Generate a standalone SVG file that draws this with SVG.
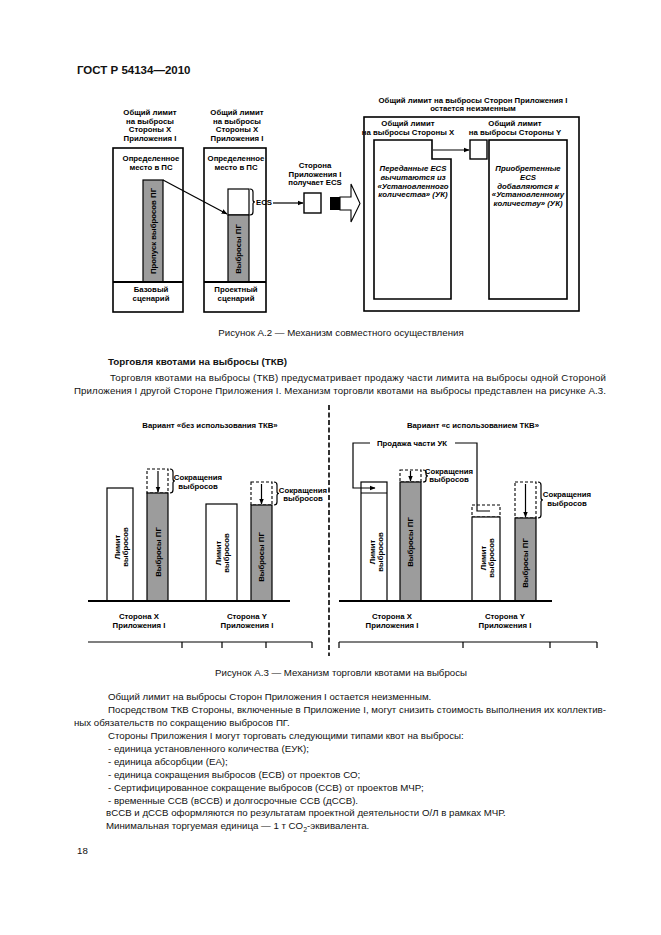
<svg xmlns="http://www.w3.org/2000/svg" width="661" height="935" viewBox="0 0 661 935">
<style>
.f{font-family:"Liberation Sans",Arial,sans-serif;font-weight:bold;font-size:7.8px;text-anchor:middle;fill:#000}
.fi{font-family:"Liberation Sans",Arial,sans-serif;font-weight:bold;font-style:italic;font-size:7.8px;text-anchor:middle;fill:#000}
.t{font-family:"Liberation Sans",Arial,sans-serif;font-size:9.7px;fill:#111}
.tb{font-family:"Liberation Sans",Arial,sans-serif;font-size:9.8px;font-weight:bold;fill:#111}
.box{fill:#fff;stroke:#000;stroke-width:1.6}
.bar{fill:#fff;stroke:#000;stroke-width:1.2}
.gbar{fill:#9c9c9c;stroke:#000;stroke-width:1.2}
.dash{fill:none;stroke:#000;stroke-width:1.1;stroke-dasharray:3,2}
.ln{fill:none;stroke:#000;stroke-width:1.2}
.bl{fill:none;stroke:#000;stroke-width:1.8}
</style>
<defs>
<marker id="ah" viewBox="0 0 10 10" refX="9" refY="5" markerWidth="5" markerHeight="5" orient="auto"><path d="M0,1 L10,5 L0,9 Z" fill="#000"/></marker>
</defs>
<rect width="661" height="935" fill="#fff"/>

<text class="tb" x="77" y="74" style="font-size:11.5px">ГОСТ Р 54134—2010</text>

<!-- Figure A.2 -->
<g id="base">
<text class="f"><tspan x="150" y="115">Общий лимит</tspan><tspan x="150" y="124">на выбросы</tspan><tspan x="150" y="132">Стороны X</tspan><tspan x="150" y="141">Приложения I</tspan></text>
<rect class="box" x="113" y="148" width="70" height="164"/>
<text class="f"><tspan x="151" y="161">Определенное</tspan><tspan x="151" y="170">место в ПС</tspan></text>
<rect class="gbar" x="143" y="180" width="20" height="102"/>
<text class="f" transform="translate(153,231) rotate(-90)" y="2.5">Пропуск выбросов ПГ</text>
<line class="bl" x1="113" y1="282" x2="183" y2="282"/>
<text class="f"><tspan x="151" y="292">Базовый</tspan><tspan x="151" y="301">сценарий</tspan></text>
</g>

<g id="project">
<text class="f"><tspan x="237" y="115">Общий лимит</tspan><tspan x="237" y="124">на выбросы</tspan><tspan x="237" y="132">Стороны X</tspan><tspan x="237" y="141">Приложения I</tspan></text>
<rect class="box" x="204" y="148" width="62" height="164"/>
<text class="f"><tspan x="236" y="161">Определенное</tspan><tspan x="236" y="170">место в ПС</tspan></text>
<rect class="bar" x="228" y="189" width="21" height="26"/>
<rect class="gbar" x="228" y="215" width="21" height="67"/>
<text class="f" transform="translate(238.5,249) rotate(-90)" y="2.5">Выбросы ПГ</text>
<line class="bl" x1="204" y1="282" x2="266" y2="282"/>
<text class="f"><tspan x="236" y="292">Проектный</tspan><tspan x="236" y="301">сценарий</tspan></text>
<path class="ln" d="M250,189 Q253,189 253,192 L253,200 Q253,202 255,202 Q253,202 253,204 L253,212 Q253,215 250,215"/>
<text class="f" x="264" y="205">ECS</text>
</g>

<g id="receiver">
<text class="f"><tspan x="315" y="168">Сторона</tspan><tspan x="315" y="177">Приложения I</tspan><tspan x="315" y="185">получает ECS</tspan></text>
<rect class="bar" x="304" y="193" width="17" height="20" style="stroke-width:1.4"/>
</g>

<g id="bigarrow">
<rect x="330" y="197" width="10" height="13" fill="#000"/>
<polygon points="340,197 351,197 351,184 360,203.5 351,222 351,210 340,210" fill="#fff" stroke="#000" stroke-width="1.1"/>
</g>

<g id="total">
<text class="f"><tspan x="473" y="103">Общий лимит на выбросы Сторон Приложения I</tspan><tspan x="473" y="111">остается неизменным</tspan></text>
<rect class="box" x="364" y="117" width="215" height="194"/>
</g>

<g id="partyX">
<text class="f"><tspan x="408" y="126">Общий лимит</tspan><tspan x="408" y="135">на выбросы Стороны X</tspan></text>
<path class="box" d="M374,140 H432 V159 H451 V299 H374 Z"/>
<text class="fi"><tspan x="413" y="171">Переданные ECS</tspan><tspan x="413" y="180">вычитаются из</tspan><tspan x="413" y="189">«Установленного</tspan><tspan x="413" y="197">количества» (УК)</tspan></text>
</g>

<g id="transfer">
<rect class="bar" x="470" y="140" width="17" height="19" style="stroke-width:1.4"/>
</g>

<g id="partyY">
<text class="f"><tspan x="515" y="126">Общий лимит</tspan><tspan x="515" y="135">на выбросы Стороны Y</tspan></text>
<rect class="box" x="489" y="140" width="78" height="159"/>
<text class="fi"><tspan x="528" y="171">Приобретенные</tspan><tspan x="528" y="180">ECS</tspan><tspan x="528" y="189">добавляются к</tspan><tspan x="528" y="197">«Установленному</tspan><tspan x="528" y="206">количеству» (УК)</tspan></text>
</g>

<g id="connectors-a2">
<line class="ln" x1="163" y1="180" x2="227" y2="214" marker-end="url(#ah)"/>
<line class="ln" x1="273" y1="203" x2="303" y2="203" marker-end="url(#ah)"/>
<line class="ln" x1="433" y1="150" x2="469" y2="150" marker-end="url(#ah)"/>
</g>

<text class="t" x="341" y="336" text-anchor="middle">Рисунок А.2 — Механизм совместного осуществления</text>

<text class="tb" x="108" y="365">Торговля квотами на выбросы (ТКВ)</text>
<text class="t" x="110" y="381" textLength="496" lengthAdjust="spacing">Торговля квотами на выбросы (ТКВ) предусматривает продажу части лимита на выбросы одной Стороной</text>
<text class="t" x="74" y="394" textLength="532" lengthAdjust="spacing">Приложения I другой Стороне Приложения I. Механизм торговли квотами на выбросы представлен на рисунке А.3.</text>

<!-- Figure A.3 -->
<g id="chart-left">
<text class="f" x="210" y="428">Вариант «без использования ТКВ»</text>
<rect class="bar" x="107" y="488" width="26" height="113"/>
<text class="f" transform="translate(120,547) rotate(-90)"><tspan x="0" y="-0.5">Лимит</tspan><tspan x="0" y="7.5">выбросов</tspan></text>
<rect class="dash" x="147" y="469" width="21" height="24"/>
<rect class="gbar" x="147" y="493" width="21" height="108"/>
<line class="ln" x1="158" y1="471" x2="158" y2="492" marker-end="url(#ah)"/>
<text class="f" transform="translate(158,552) rotate(-90)" y="2.5">Выбросы ПГ</text>
<path class="ln" d="M170,469 Q173,469 173,472 L173,479 Q173,481 175,481 Q173,481 173,483 L173,490 Q173,493 170,493"/>
<text class="f"><tspan x="198" y="480">Сокращения</tspan><tspan x="198" y="489">выбросов</tspan></text>
<rect class="bar" x="206" y="504" width="31" height="97"/>
<text class="f" transform="translate(221.5,553) rotate(-90)"><tspan x="0" y="-0.5">Лимит</tspan><tspan x="0" y="7.5">выбросов</tspan></text>
<rect class="dash" x="251" y="482" width="21" height="23"/>
<rect class="gbar" x="251" y="505" width="21" height="96"/>
<line class="ln" x1="261.5" y1="484" x2="261.5" y2="504" marker-end="url(#ah)"/>
<text class="f" transform="translate(261.5,557) rotate(-90)" y="2.5">Выбросы ПГ</text>
<path class="ln" d="M274,482 Q277,482 277,485 L277,491.5 Q277,493.5 279,493.5 Q277,493.5 277,495.5 L277,502 Q277,505 274,505"/>
<text class="f"><tspan x="303" y="493">Сокращения</tspan><tspan x="303" y="501">выбросов</tspan></text>
<line class="bl" x1="88" y1="601" x2="290" y2="601"/>
<text class="f"><tspan x="139" y="619">Сторона X</tspan><tspan x="139" y="628">Приложения I</tspan></text>
<text class="f"><tspan x="247" y="619">Сторона Y</tspan><tspan x="247" y="628">Приложения I</tspan></text>
<path class="ln" d="M88,642 H312 M182,642 V648 M222,642 V648 M266,642 V648 M312,642 V648"/>
</g>

<line x1="329" y1="405" x2="329" y2="656" stroke="#000" stroke-width="1.6" stroke-dasharray="5,2.5"/>

<g id="chart-right">
<text class="f" x="473" y="428">Вариант «с использованием ТКВ»</text>
<rect class="bar" x="361" y="482" width="26" height="119"/>
<line x1="361" y1="493" x2="387" y2="493" stroke="#000" stroke-width="1"/>
<text class="f" transform="translate(375,552) rotate(-90)"><tspan x="0" y="-0.5">Лимит</tspan><tspan x="0" y="7.5">выбросов</tspan></text>
<rect class="dash" x="400" y="470" width="21" height="12"/>
<rect class="gbar" x="400" y="482" width="21" height="119"/>
<line class="ln" x1="410.5" y1="471" x2="410.5" y2="481" marker-end="url(#ah)"/>
<text class="f" transform="translate(410.5,542) rotate(-90)" y="2.5">Выбросы ПГ</text>
<path class="ln" d="M423,470 Q426,470 426,472 L426,474 Q426,476 428,476 Q426,476 426,478 L426,480 Q426,482 423,482"/>
<text class="f"><tspan x="449" y="474">Сокращения</tspan><tspan x="449" y="482">выбросов</tspan></text>
<rect class="dash" x="472" y="505" width="28" height="12"/>
<rect class="bar" x="472" y="517" width="28" height="84"/>
<text class="f" transform="translate(486,558) rotate(-90)"><tspan x="0" y="-0.5">Лимит</tspan><tspan x="0" y="7.5">выбросов</tspan></text>
<rect class="dash" x="515" y="482" width="21" height="36"/>
<rect class="gbar" x="515" y="518" width="21" height="83"/>
<line class="ln" x1="525.5" y1="484" x2="525.5" y2="517" marker-end="url(#ah)"/>
<text class="f" transform="translate(525.5,563) rotate(-90)" y="2.5">Выбросы ПГ</text>
<path class="ln" d="M538,482 Q541,482 541,485 L541,498 Q541,500 543,500 Q541,500 541,502 L541,515 Q541,518 538,518"/>
<text class="f"><tspan x="567" y="497">Сокращения</tspan><tspan x="567" y="506">выбросов</tspan></text>
<line class="bl" x1="339" y1="601" x2="552" y2="601"/>
<text class="f"><tspan x="392" y="619">Сторона X</tspan><tspan x="392" y="628">Приложения I</tspan></text>
<text class="f"><tspan x="505" y="619">Сторона Y</tspan><tspan x="505" y="628">Приложения I</tspan></text>
<path class="ln" d="M339,642 H597 M339,642 V648 M463,642 V648 M550,642 V648 M597,642 V648"/>
</g>

<g id="connectors-a3">
<path class="ln" d="M490,511 H477 V443 H455 M370,443 H353 V488 H375" marker-end="url(#ah)"/>
<text class="f" x="412" y="446">Продажа части УК</text>
</g>

<text class="t" x="341" y="676" text-anchor="middle">Рисунок А.3 — Механизм торговли квотами на выбросы</text>

<text class="t" x="108" y="700">Общий лимит на выбросы Сторон Приложения I остается неизменным.</text>
<text class="t" x="108" y="713" textLength="498" lengthAdjust="spacing">Посредством ТКВ Стороны, включенные в Приложение I, могут снизить стоимость выполнения их коллектив-</text>
<text class="t" x="74" y="726">ных обязательств по сокращению выбросов ПГ.</text>
<text class="t" x="108" y="739">Стороны Приложения I могут торговать следующими типами квот на выбросы:</text>
<text class="t" x="108" y="752">- единица установленного количества (ЕУК);</text>
<text class="t" x="108" y="765">- единица абсорбции (ЕА);</text>
<text class="t" x="108" y="778">- единица сокращения выбросов (ЕСВ) от проектов СО;</text>
<text class="t" x="108" y="791">- Сертифицированное сокращение выбросов (ССВ) от проектов МЧР;</text>
<text class="t" x="108" y="804">- временные ССВ (вССВ) и долгосрочные ССВ (дССВ).</text>
<text class="t" x="106" y="816">вССВ и дССВ оформляются по результатам проектной деятельности О/Л в рамках МЧР.</text>
<text class="t" x="106" y="829">Минимальная торгуемая единица — 1 т CO<tspan dy="2.5" style="font-size:7px">2</tspan><tspan dy="-2.5">-эквивалента.</tspan></text>
<text class="t" x="77" y="854">18</text>
</svg>
